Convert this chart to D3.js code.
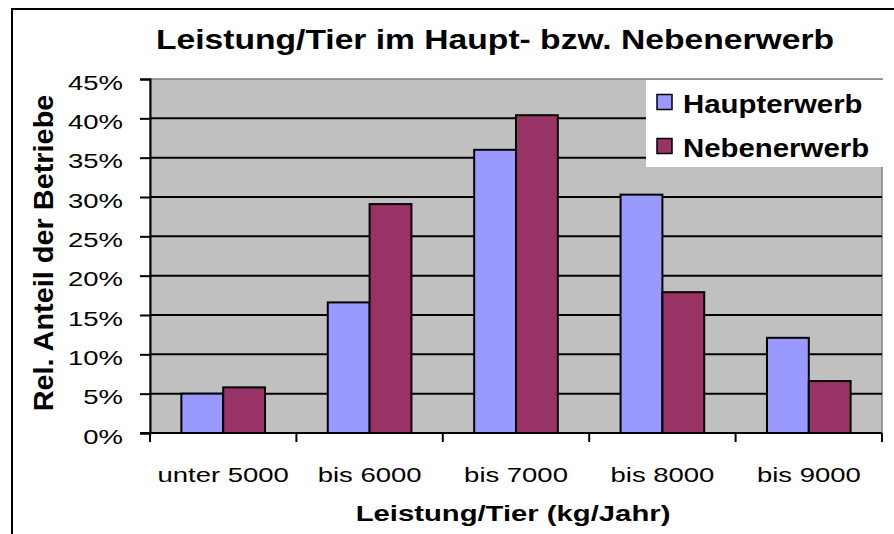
<!DOCTYPE html>
<html>
<head>
<meta charset="utf-8">
<style>
  body { margin: 0; background: #fff; }
  svg { display: block; }
</style>
</head>
<body>
<svg width="894" height="534" font-family="'Liberation Sans', Arial, sans-serif"></svg>
<script src="https://d3js.org/d3.v7.min.js"></script>
<script>

var categories = ["unter 5000", "bis 6000", "bis 7000", "bis 8000", "bis 9000"];
var seriesNames = ["Haupterwerb", "Nebenerwerb"];
var haupterwerb = [0.050, 0.166, 0.360, 0.303, 0.121];
var nebenerwerb = [0.058, 0.291, 0.404, 0.179, 0.066];
var yTicks = [0, 0.05, 0.10, 0.15, 0.20, 0.25, 0.30, 0.35, 0.40, 0.45];

var colors = ["#9999ff", "#993366"];

var svg = d3.select("svg");

var plot = {left: 150, top: 79, right: 882, bottom: 433};

// text in the original is drawn wider than the font's own metrics
function stretched(sel, x, y, sx, rot) {
  return sel.attr("x", 0).attr("y", 0)
    .attr("transform", "translate(" + x + "," + y + ")" + (rot ? " rotate(" + rot + ")" : "") + " scale(" + sx + ",1)");
}

// outer frame (runs off the picture right and bottom)
svg.append("rect")
    .attr("x", 12).attr("y", 9)
    .attr("width", 900).attr("height", 540)
    .attr("fill", "#fff")
    .attr("stroke", "#000")
    .attr("stroke-width", 2);

var x = d3.scaleBand()
    .domain(categories)
    .range([plot.left, plot.right]);

var x1 = d3.scaleBand()
    .domain(seriesNames)
    .range([0, x.bandwidth()])
    .paddingOuter(0.75)
    .paddingInner(0);

var y = d3.scaleLinear()
    .domain([0, 0.45])
    .range([plot.bottom, plot.top]);

// plot background
svg.append("rect")
    .attr("x", plot.left).attr("y", plot.top)
    .attr("width", plot.right - plot.left)
    .attr("height", plot.bottom - plot.top)
    .attr("fill", "#c0c0c0")
    .attr("stroke", "#808080")
    .attr("stroke-width", 1.5);

// gridlines
svg.append("g")
  .selectAll("line")
  .data(yTicks.slice(1, -1))
  .enter().append("line")
    .attr("x1", plot.left).attr("x2", plot.right)
    .attr("y1", function(d) { return y(d); })
    .attr("y2", function(d) { return y(d); })
    .attr("stroke", "#000")
    .attr("stroke-width", 2);

var rows = categories.map(function(c, i) {
  return {cat: c, values: [haupterwerb[i], nebenerwerb[i]]};
});

var group = svg.append("g")
  .selectAll("g")
  .data(rows)
  .enter().append("g")
    .attr("transform", function(d) { return "translate(" + x(d.cat) + ",0)"; });

group.selectAll("rect")
  .data(function(d) { return d.values.map(function(v, j) { return {name: seriesNames[j], value: v, j: j}; }); })
  .enter().append("rect")
    .attr("x", function(d) { return x1(d.name); })
    .attr("width", x1.bandwidth())
    .attr("y", function(d) { return y(d.value); })
    .attr("height", function(d) { return y(0) - y(d.value); })
    .attr("fill", function(d) { return colors[d.j]; })
    .attr("stroke", "#000")
    .attr("stroke-width", 2);

// y axis
var yAxis = svg.append("g")
    .attr("transform", "translate(" + plot.left + ",0)")
    .call(d3.axisLeft(y)
      .tickValues(yTicks)
      .tickFormat(d3.format(".0%"))
      .tickSize(10));
yAxis.select(".domain").attr("stroke", "#000").attr("stroke-width", 2);
yAxis.selectAll(".tick line").attr("stroke", "#000").attr("stroke-width", 2);
yAxis.selectAll("text")
    .attr("font-family", "'Liberation Sans', Arial, sans-serif")
    .attr("font-size", 20.5)
    .attr("fill", "#000")
    .attr("dy", "0.49em")
    .attr("x", 0)
    .attr("transform", "translate(-27,0) scale(1.34,1)");

// x axis
var bounds = categories.map(function(c) { return x(c); }).concat([plot.right]);
var xAxis = svg.append("g");
xAxis.append("line")
    .attr("x1", plot.left - 10).attr("x2", plot.right)
    .attr("y1", plot.bottom).attr("y2", plot.bottom)
    .attr("stroke", "#000").attr("stroke-width", 2);
xAxis.selectAll(".xt")
  .data(bounds)
  .enter().append("line")
    .attr("x1", function(d) { return d; })
    .attr("x2", function(d) { return d; })
    .attr("y1", plot.bottom).attr("y2", plot.bottom + 9)
    .attr("stroke", "#000").attr("stroke-width", 2);
xAxis.selectAll("text")
  .data(categories)
  .enter().append("text")
    .attr("text-anchor", "middle")
    .attr("font-size", 20.5)
    .text(function(d) { return d; })
    .each(function(d) {
      stretched(d3.select(this), x(d) + x.bandwidth() / 2, 482, 1.34);
    });

// titles
stretched(svg.append("text"), 495, 48.5, 1.18)
    .attr("text-anchor", "middle")
    .attr("font-size", 28.5)
    .attr("font-weight", "bold")
    .text("Leistung/Tier im Haupt- bzw. Nebenerwerb");

stretched(svg.append("text"), 513, 521, 1.33)
    .attr("text-anchor", "middle")
    .attr("font-size", 22)
    .attr("font-weight", "bold")
    .text("Leistung/Tier (kg/Jahr)");

stretched(svg.append("text"), 53, 253, 1.07, -90)
    .attr("text-anchor", "middle")
    .attr("font-size", 27)
    .attr("font-weight", "bold")
    .text("Rel. Anteil der Betriebe");

// legend
var legend = svg.append("g");
legend.append("rect")
    .attr("x", 646).attr("y", 80)
    .attr("width", 238).attr("height", 87)
    .attr("fill", "#fff");
var li = legend.selectAll(".li")
  .data(seriesNames)
  .enter().append("g")
    .attr("transform", function(d, i) { return "translate(657," + (94.5 + i * 44) + ")"; });
li.append("rect")
    .attr("width", 15).attr("height", 15)
    .attr("fill", function(d, i) { return colors[i]; })
    .attr("stroke", "#000")
    .attr("stroke-width", 1.5);
li.append("text")
    .attr("font-size", 26)
    .attr("font-weight", "bold")
    .text(function(d) { return d; })
    .each(function() { stretched(d3.select(this), 26, 18.5, 1.13); });

</script>
</body>
</html>
